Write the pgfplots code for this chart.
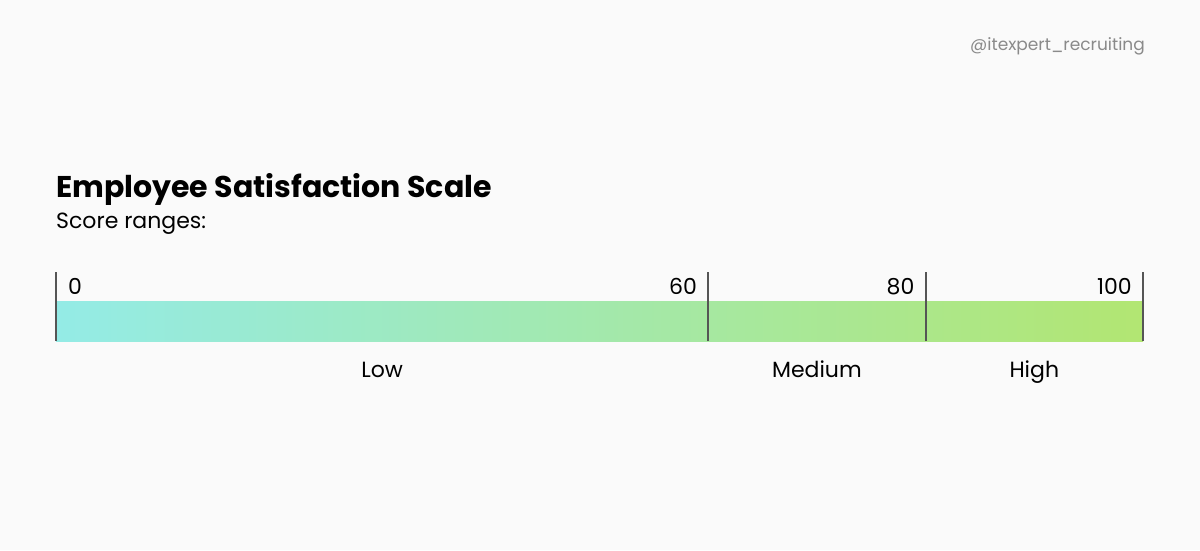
\documentclass[border=0pt]{standalone}
\usepackage{pgfplots}
\pgfplotsset{compat=1.18}
\usepackage{fontspec}
\setmainfont{Poppins}
\definecolor{bg}{HTML}{FAFAFA}
\definecolor{cL}{HTML}{94EBE6}
\definecolor{cR}{HTML}{B2E672}
\definecolor{divc}{HTML}{555555}
\definecolor{wm}{HTML}{8A8A8A}
\begin{document}
\begin{tikzpicture}
\fill[bg] (0,0) rectangle (1200pt,-550pt);
\node[anchor=base west, inner sep=0, font=\fontsize{30}{36}\selectfont\bfseries] at (56pt,-197pt) {Employee Satisfaction Scale};
\node[anchor=base west, inner sep=0, font=\fontsize{22}{26}\selectfont] at (56pt,-228pt) {Score ranges:};
\node[anchor=base east, inner sep=0, text=wm, font=\fontsize{17}{20}\selectfont] at (1145pt,-50pt) {@itexpert\_recruiting};
\begin{axis}[at={(56pt,-341pt)}, anchor=south west, scale only axis,
  width=1087pt, height=40pt, xmin=0, xmax=100, ymin=0, ymax=1,
  hide axis, clip=false]
\addplot[draw=none, left color=cL, right color=cR] coordinates {(0,0) (0,1) (100,1) (100,0)} -- cycle;
\addplot[ycomb, divc, line width=2pt, mark=none] coordinates {(0,1.725) (60,1.725) (80,1.725) (100,1.725)};
\begin{scope}[every node/.style={inner sep=0, font=\fontsize{22}{26}\selectfont}]
\node[anchor=base west, xshift=12pt] at (axis cs:0,1.175) {0};
\node[anchor=base east, xshift=-11pt] at (axis cs:60,1.175) {60};
\node[anchor=base east, xshift=-11pt] at (axis cs:80,1.175) {80};
\node[anchor=base east, xshift=-11pt] at (axis cs:100,1.175) {100};
\node[anchor=base] at (axis cs:30,-0.9) {Low};
\node[anchor=base] at (axis cs:70,-0.9) {Medium};
\node[anchor=base] at (axis cs:90,-0.9) {High};
\end{scope}
\end{axis}
\end{tikzpicture}
\end{document}
